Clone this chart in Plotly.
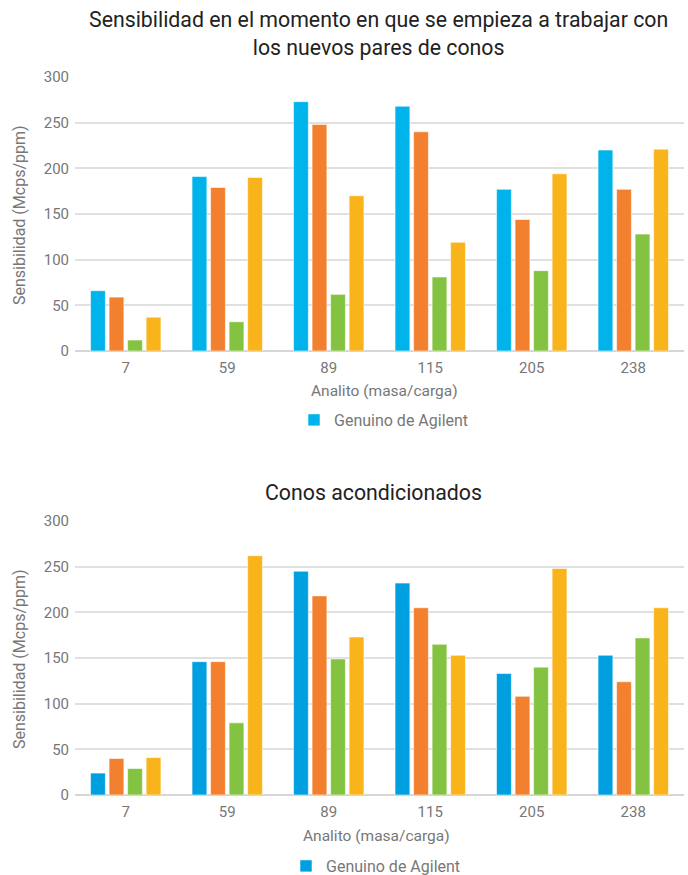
import plotly.graph_objects as go

# Analytes (mass/charge) shown on the x axis
categorias = ["7", "59", "89", "115", "205", "238"]

# Sensitivity (Mcps/ppm) when starting with the new cone pairs
inicio_genuino = [66, 191, 273, 268, 177, 220]
inicio_serie2 = [59, 179, 248, 240, 144, 177]
inicio_serie3 = [12, 32, 62, 81, 88, 128]
inicio_serie4 = [37, 190, 170, 119, 194, 221]

# Sensitivity (Mcps/ppm) with conditioned cones
acond_genuino = [24, 146, 245, 232, 133, 153]
acond_serie2 = [40, 146, 218, 205, 108, 124]
acond_serie3 = [29, 79, 149, 165, 140, 172]
acond_serie4 = [41, 262, 173, 153, 248, 205]

nombres = ["Genuino de Agilent", "Serie 2", "Serie 3", "Serie 4"]
colores_sup = ["#00B4EB", "#F2802E", "#84C341", "#F9B31B"]
colores_inf = ["#00A0E0", "#F2802E", "#84C341", "#F9B31B"]

W, H = 688, 875
ML, MR = 75, 4
PW = W - ML - MR

def py(px):
    return 1 - px / H

def px_x(px):
    return (px - ML) / PW

fig = go.Figure()

sup = [inicio_genuino, inicio_serie2, inicio_serie3, inicio_serie4]
inf = [acond_genuino, acond_serie2, acond_serie3, acond_serie4]

for i, vals in enumerate(sup):
    fig.add_trace(go.Bar(
        x=categorias, y=vals, name=nombres[i],
        marker=dict(color=colores_sup[i], line=dict(color="rgba(255,255,255,0.55)", width=1)),
        xaxis="x", yaxis="y", legend="legend",
        showlegend=(i == 0), offsetgroup=str(i),
    ))

for i, vals in enumerate(inf):
    fig.add_trace(go.Bar(
        x=categorias, y=vals, name=nombres[i],
        marker=dict(color=colores_inf[i], line=dict(color="rgba(255,255,255,0.55)", width=1)),
        xaxis="x2", yaxis="y2", legend="legend2",
        showlegend=(i == 0), offsetgroup=str(i),
    ))

tick_font = dict(family="Roboto", size=15, color="#777777")
grid = "#E0E0E0"

ejey = dict(
    range=[0, 300], dtick=50, showgrid=True, gridcolor=grid, gridwidth=1.5,
    zeroline=True, zerolinecolor="#D6D6D6", zerolinewidth=1.5,
    tickfont=tick_font, showline=False, ticks="", fixedrange=True,
    ticklabelstandoff=5,
)
ejex = dict(
    type="category", showgrid=False, showline=False, ticks="",
    tickfont=tick_font, fixedrange=True, ticklabelstandoff=6,
)

leyenda_font = dict(family="Roboto", size=16, color="#777777")

fig.update_layout(
    width=W, height=H,
    margin=dict(l=ML, r=MR, t=0, b=0, autoexpand=False),
    paper_bgcolor="white", plot_bgcolor="white",
    font=dict(family="Roboto", color="#777777"),
    barmode="group", bargap=0.27, bargroupgap=0.2,
    hovermode=False,
    xaxis=dict(ejex, anchor="y", domain=[0, 1]),
    yaxis=dict(ejey, anchor="x", domain=[py(351), py(77)]),
    xaxis2=dict(ejex, anchor="y2", domain=[0, 1]),
    yaxis2=dict(ejey, anchor="x2", domain=[py(795), py(521)]),
    legend=dict(
        x=px_x(294), y=py(420), xanchor="left", yanchor="middle",
        font=leyenda_font, bgcolor="rgba(0,0,0,0)",
        itemclick=False, itemdoubleclick=False,
    ),
    legend2=dict(
        x=px_x(286), y=py(866), xanchor="left", yanchor="middle",
        font=leyenda_font, bgcolor="rgba(0,0,0,0)",
        itemclick=False, itemdoubleclick=False,
    ),
)

titulo_font = dict(family="Roboto", size=21.3, color="#222222")
eje_font = dict(family="Roboto", size=15.5, color="#777777")
anots = [
    dict(text="Sensibilidad en el momento en que se empieza a trabajar con<br>los nuevos pares de conos",
         x=px_x(378), y=py(34), font=titulo_font),
    dict(text="Conos acondicionados", x=px_x(373), y=py(493), font=titulo_font),
    dict(text="Analito (masa/carga)", x=px_x(384), y=py(391), font=eje_font),
    dict(text="Analito (masa/carga)", x=px_x(376), y=py(836), font=eje_font),
    dict(text="Sensibilidad (Mcps/ppm)", x=px_x(19), y=py(215), font=dict(eje_font, size=16), textangle=-90),
    dict(text="Sensibilidad (Mcps/ppm)", x=px_x(19), y=py(659), font=dict(eje_font, size=16), textangle=-90),
]
for a in anots:
    fig.add_annotation(xref="paper", yref="paper", showarrow=False,
                       xanchor="center", yanchor="middle", **a)

fig.write_html("out.html")
